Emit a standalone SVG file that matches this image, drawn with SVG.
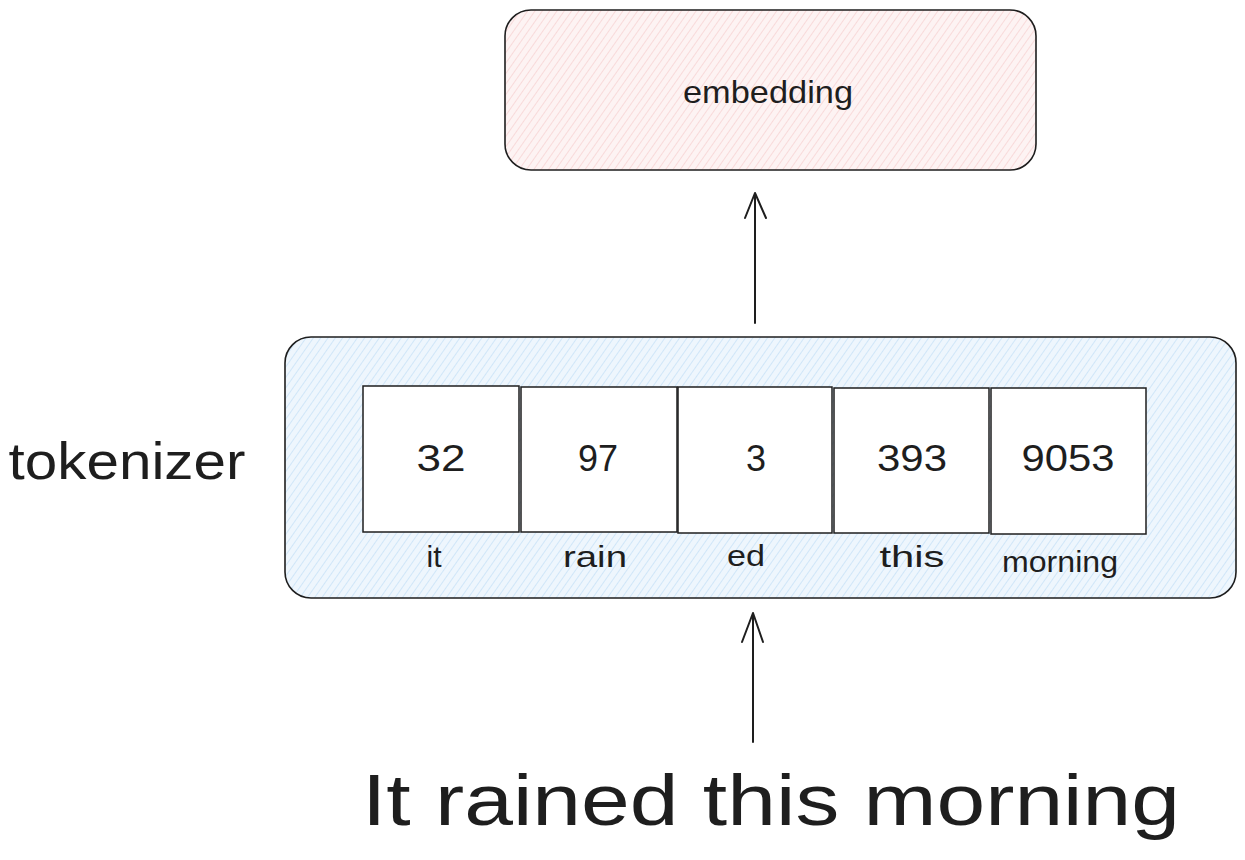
<svg xmlns="http://www.w3.org/2000/svg" width="1245" height="860" viewBox="0 0 1245 860">
<defs>
<pattern id="hatchPink" width="6" height="6" patternUnits="userSpaceOnUse" patternTransform="rotate(35)">
<rect width="6" height="6" fill="#fdf3f3"/>
<line x1="0" y1="0" x2="0" y2="6" stroke="#f5caca" stroke-width="1.2"/>
</pattern>
<pattern id="hatchBlue" width="6" height="6" patternUnits="userSpaceOnUse" patternTransform="rotate(35)">
<rect width="6" height="6" fill="#eef6fd"/>
<line x1="0" y1="0" x2="0" y2="6" stroke="#bcdcf5" stroke-width="1.2"/>
</pattern>
<style>
.box{stroke:#1e1e1e;stroke-width:1.6}
.tok{fill:#ffffff;stroke:#1e1e1e;stroke-width:1.5}
.t{font-family:"Liberation Sans",Arial,sans-serif;fill:#1e1e1e;text-anchor:middle}
.num{font-size:36px}
.lab{font-size:30px}
.con{stroke:#1e1e1e;stroke-width:2;fill:none;stroke-linecap:round;stroke-linejoin:round}
</style>
</defs>
<g id="embedding">
<rect class="box" x="505" y="10" width="531" height="160" rx="26" fill="url(#hatchPink)"/>
<text class="t" x="768" y="103" font-size="32" textLength="170" lengthAdjust="spacingAndGlyphs">embedding</text>
</g>
<g id="tokenizer-box">
<rect class="box" x="285" y="337" width="951" height="261" rx="26" fill="url(#hatchBlue)"/>
</g>
<g id="tokenizer-label">
<text class="t" x="127" y="479" font-size="52" textLength="237" lengthAdjust="spacingAndGlyphs">tokenizer</text>
</g>
<g id="tok-32">
<rect class="tok" x="363" y="386" width="156" height="146"/>
<text class="t num" x="441" y="471" textLength="49" lengthAdjust="spacingAndGlyphs">32</text>
<text class="t lab" x="434" y="567">it</text>
</g>
<g id="tok-97">
<rect class="tok" x="521" y="387" width="156" height="145"/>
<text class="t num" x="598" y="471" textLength="40" lengthAdjust="spacingAndGlyphs">97</text>
<text class="t lab" x="595" y="567" textLength="64" lengthAdjust="spacingAndGlyphs">rain</text>
</g>
<g id="tok-3">
<rect class="tok" x="678" y="387" width="154" height="146"/>
<text class="t num" x="756" y="471">3</text>
<text class="t lab" x="746" y="566" textLength="38" lengthAdjust="spacingAndGlyphs">ed</text>
</g>
<g id="tok-393">
<rect class="tok" x="834" y="388" width="155" height="145"/>
<text class="t num" x="912" y="471" textLength="70" lengthAdjust="spacingAndGlyphs">393</text>
<text class="t lab" x="912" y="567" textLength="65" lengthAdjust="spacingAndGlyphs">this</text>
</g>
<g id="tok-9053">
<rect class="tok" x="991" y="388" width="155" height="146"/>
<text class="t num" x="1068" y="471" textLength="93" lengthAdjust="spacingAndGlyphs">9053</text>
<text class="t lab" x="1060" y="572" textLength="116" lengthAdjust="spacingAndGlyphs">morning</text>
</g>
<g id="input">
<text class="t" x="771" y="825" font-size="72" textLength="818" lengthAdjust="spacingAndGlyphs">It rained this morning</text>
</g>
<g id="connectors">
<path class="con" d="M755 323 L755 193 M745 218 L755 193 L766 218"/>
<path class="con" d="M753 742 L753 613 M742 642 L753 613 L763 642"/>
</g>
</svg>
